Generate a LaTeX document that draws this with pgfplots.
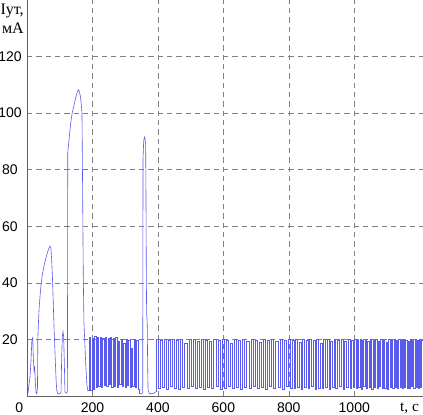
\documentclass[border=0pt]{standalone}
\usepackage{fontspec}
\setmainfont{Liberation Serif}
\newfontfamily\arialfont{Liberation Sans}
\usepackage{pgfplots}
\pgfplotsset{compat=1.18}
\definecolor{sig}{RGB}{90,90,235}
\definecolor{gridc}{RGB}{128,128,128}
\definecolor{axc}{RGB}{95,95,95}

\begin{document}
\begin{tikzpicture}
\path[use as bounding box] (-20.25pt,-13.5pt) rectangle (297pt,297pt);
\begin{axis}[
    at={(0,0)}, anchor=south west,
    scale only axis, width=297pt, height=297pt,
    xmin=0, xmax=1210, ymin=0, ymax=140,
    clip=false,
    axis x line*=bottom, axis y line*=left,
    axis line style={axc, line width=0.6pt},
    xtick={200,400,600,800,1000}, ytick={20,40,60,80,100,120},
    extra x ticks={0}, extra x tick labels={0},
    extra x tick style={grid=none, xticklabel style={xshift=-5.8pt}},
    grid=major,
    major grid style={gridc, dash pattern=on 4pt off 3pt, line width=0.4pt},
    tick style={draw=none},
    ticklabel style={font=\arialfont\fontsize{10.5}{12}\selectfont},
    /pgf/number format/assume math mode=true,
    /pgf/number format/1000 sep={},
    scaled ticks=false,
    xticklabel style={yshift=-1.2pt},
    yticklabel style={anchor=center, xshift=-12.75pt},
]
% start-up humps
\addplot[sig, line width=0.45pt] coordinates {
(0,0.8) (3,1.0) (6,4.0) (9,6.5) (12,12) (15,20) (17.5,20.6) (19.5,13) (21.5,9) (23.5,10.5) (25.5,5) (27.5,1.2) (30,0.8) (32,3)
(33,20) (35,26) (37,31) (40,35.5) (43,39.5) (47,43) (52,46) (57,48.5) (62,50.5) (66,52) (70,53) (73,52.2) (75,49) (77,44) (79,38) (81,30) (83,23) (85,17) (87,11) (89,5.5) (91,2) (94,0.8) (100,0.8) (104,1.2)
(106,14) (108,21) (110,22.8) (112,21) (114,12) (116,1.5) (119,1) (122,1.2)
(123.5,2) (124.5,86) (127,89) (130,92.5) (134,97) (138,100) (142,102) (146,104) (150,106) (154,107.6) (157,108.3) (160,107.6) (163,106) (166,103) (168,100) (170,72) (172,42) (174,26) (177,18) (180,10) (183,4) (186,1.8) (189.9,2.0)
};
% switching, 190-342
\addplot[sig, line width=0.45pt, const plot mark left] coordinates {
(189.9,2.0) (190,20.8) (194,2.0) (198,20.5) (202,2.5) (206.5,21.0) (211,3.0) (215,20.6) (219,3.5) (223,20.8) (227,3.0)
(231,20.4) (235,3.8) (239,20.7) (243,3.5) (247,20.5) (251,4.0) (255,20.9) (259,3.2) (263,20.3) (267,3.6)
(271,20.6) (275,3.0) (279,19.5) (283,4.0) (287,20.2) (291,3.5) (295,18.5) (299,3.0) (303,20.0) (307,3.8)
(311,19.8) (315,3.2) (319,17.0) (323,3.5) (327,20.2) (331,3.0) (335,19.8) (339,2.5) (342,1.0) (342.1,1.0)
};
% third peak
\addplot[sig, line width=0.45pt] coordinates {
(342,1.0) (346,0.8) (350,0.8) (353.5,1.2) (354.5,84) (356.5,90) (358.5,91.6) (360.5,91.2) (362.5,89) (363.5,72) (364.5,45)
(365.5,29) (366.5,27.5) (367.5,25) (368.5,12) (370,2) (374,0.8) (384,0.8) (390,1.2) (393.9,1.5)
};
% switching, 394-1210
\addplot[sig, line width=0.45pt, const plot mark left] coordinates {
(393.9,1.5)
(394,20.0) (400.5,2.6) (406.5,19.8) (413,3.1) (419,20.1) (425.5,2.4) (431.5,19.6) (438,3.3) (444,20.0) (450.5,2.8)
(457,19.7) (463,2.5) (469.5,20.1) (476,3.2) (482,18.8) (488.5,2.7) (494.5,19.9) (501,3.4) (507,20.0) (513.5,2.6)
(520,19.5) (526,3.0) (532.5,20.1) (539,2.4) (545,19.8) (551.5,3.2) (558,19.2) (564,2.7) (570.5,20.0) (577,3.3)
(583,19.7) (589.5,2.5) (596,20.1) (602,2.9) (608.5,19.6) (615,3.4) (621,18.7) (627.5,2.6) (633.5,20.0) (640,3.1)
(646,19.8) (652.5,2.5) (659,20.1) (665,3.2) (671.5,19.4) (678,2.8) (684,20.0) (690.5,3.4) (697,19.7) (703,2.6)
(709.5,18.9) (716,3.0) (722,20.1) (728.5,2.4) (735,19.8) (741,3.3) (747.5,20.0) (754,2.7) (760,19.5) (766.5,3.1)
(772.5,20.1) (779,2.5) (785,19.6) (791.5,3.4) (798,20.0) (804,2.8)
(810,19.8) (815.5,2.6) (821,20.1) (826.5,3.2) (832,19.0) (837,2.3) (842,20.0) (847.5,3.0) (853,19.7) (858.5,2.6)
(864,20.1) (869,3.4) (874,19.6) (879.5,2.4) (885,20.0) (890.5,2.9) (896,18.5) (901,2.6) (906,19.9) (911.5,3.2)
(917,20.1) (922.5,2.5) (928,19.4) (933,3.1) (938,20.0) (943.5,2.7) (949,19.8) (954.5,3.3) (960,20.1) (965,2.4)
(970,19.5) (975.5,3.0) (981,20.0) (986.5,2.6) (992,19.7) (996.5,3.2)
(1001,20.0) (1005,2.7) (1009,19.6) (1013,3.1) (1017,20.1) (1021,2.5) (1025,19.8) (1029,3.3) (1033,20.0) (1037,2.6)
(1041,19.3) (1045,3.0) (1049,20.1) (1053,2.4) (1057,19.7) (1061,3.2) (1065,20.0) (1069,2.7) (1073,19.5) (1077,3.4)
(1081,20.1) (1085,2.6) (1089,19.8) (1093,2.9) (1097,19.0) (1101,2.5) (1105,20.0) (1109,3.2) (1113,19.7) (1117,2.8)
(1121,20.1) (1125,3.1)
(1129,19.8) (1132.5,2.6) (1136,20.0) (1139.5,3.0) (1143,19.6) (1146.5,2.7) (1150,20.1) (1153.5,3.2) (1157,19.8) (1160.5,2.6)
(1164,19.5) (1167.5,2.9) (1171,20.0) (1174.5,3.3) (1178,19.7) (1181.5,2.8) (1185,20.0) (1188.5,3.1) (1192,19.6) (1195.5,2.7)
(1199,19.9) (1202.5,3.0) (1206,19.7) (1209.5,2.8) (1210,2.8)
};
\node[anchor=north east, align=right, inner sep=0pt, font=\fontsize{12}{14.5}\selectfont]
    at (axis cs:0,140) [xshift=-2.25pt, yshift=-2.5pt] {Iут,\\мА};
\node[anchor=base, inner sep=0pt, font=\fontsize{11.5}{12}\selectfont]
    at (axis cs:1169,0) [yshift=-11.8pt] {t, c};
\end{axis}
\end{tikzpicture}
\end{document}
